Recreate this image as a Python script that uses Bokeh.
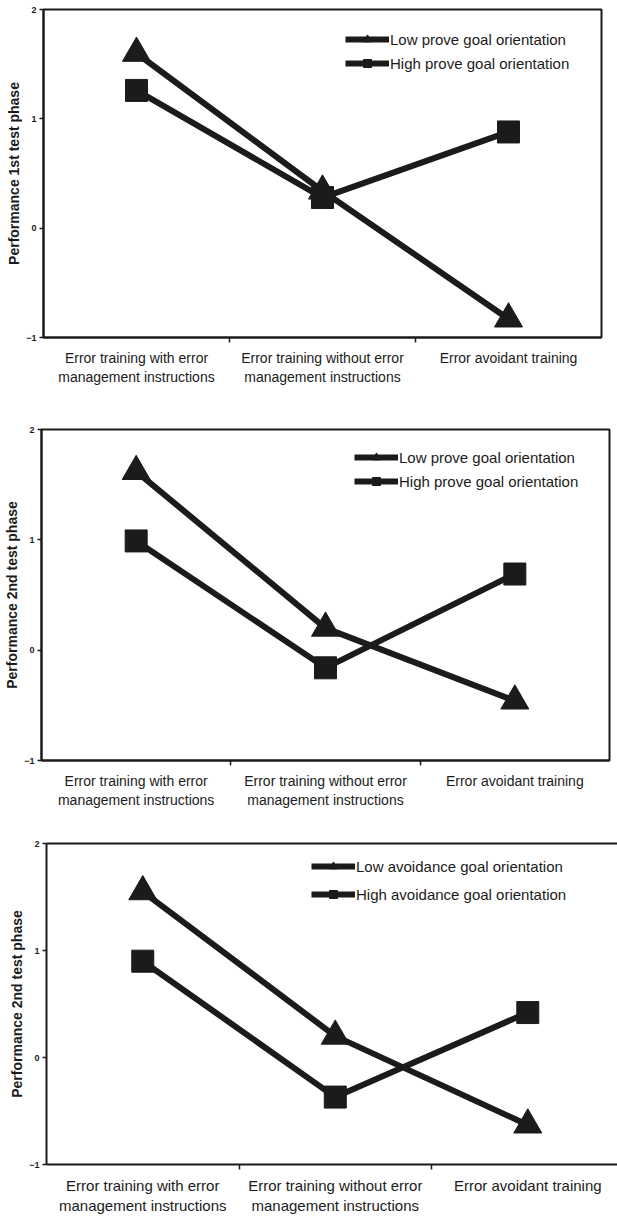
from bokeh.plotting import figure
from bokeh.layouts import column
from bokeh.models import Range1d, FixedTicker, Legend, LegendItem, LinearAxis
from bokeh.embed import file_html
from bokeh.resources import INLINE

# ---- data ----
categories = [
    "Error training with error\nmanagement instructions",
    "Error training without error\nmanagement instructions",
    "Error avoidant training",
]
y_ticks = [-1, 0, 1, 2]

ylabel_1 = "Performance 1st test phase"
ylabel_2 = "Performance 2nd test phase"
ylabel_3 = "Performance 2nd test phase"

labels_prove = ["Low prove goal orientation", "High prove goal orientation"]
labels_avoid = ["Low avoidance goal orientation", "High avoidance goal orientation"]

low_prove_1st = [1.60, 0.34, -0.83]
high_prove_1st = [1.26, 0.28, 0.88]

low_prove_2nd = [1.62, 0.20, -0.46]
high_prove_2nd = [0.99, -0.16, 0.69]

low_avoid_2nd = [1.55, 0.20, -0.63]
high_avoid_2nd = [0.90, -0.37, 0.42]

INK = "#1b1b1b"
FONT = "Liberation Sans"


def make_panel(ylabel, low, high, leg_labels, height, x_end, b_left, b_right,
               b_top, b_bottom, legend_xy, legend_spacing, xfont,
               open_right=False):
    xs = [i + 0.5 for i in range(len(categories))]
    p = figure(width=617, height=height,
               x_range=Range1d(0, x_end), y_range=Range1d(-1, 2),
               output_backend="svg", toolbar_location=None,
               min_border_left=b_left, min_border_right=b_right,
               min_border_top=b_top, min_border_bottom=b_bottom)
    p.background_fill_color = "white"
    p.border_fill_color = "white"
    p.xgrid.visible = False
    p.ygrid.visible = False

    # y axis
    ya = p.left[0]
    ya.ticker = FixedTicker(ticks=y_ticks)
    ya.axis_label = ylabel
    ya.axis_label_text_font = FONT
    ya.axis_label_text_font_style = "bold"
    ya.axis_label_text_font_size = "14px"
    ya.axis_label_text_color = INK
    ya.axis_label_standoff = 1
    ya.major_label_text_font = FONT
    ya.major_label_text_font_style = "bold"
    ya.major_label_text_font_size = "9px"
    ya.major_label_text_color = INK
    ya.major_label_standoff = 3
    ya.major_tick_out = 4
    ya.major_tick_in = 0
    ya.minor_tick_line_color = None
    ya.axis_line_color = INK
    ya.axis_line_width = 2
    ya.major_tick_line_color = INK
    ya.major_tick_line_width = 1.5

    # x axis: labels at category centres, tick marks at category boundaries
    xa = p.below[0]
    xa.ticker = FixedTicker(ticks=xs, minor_ticks=[1, 2])
    xa.major_label_overrides = {x: c for x, c in zip(xs, categories)}
    xa.major_label_text_font = FONT
    xa.major_label_text_font_size = xfont
    xa.major_label_text_color = INK
    xa.major_label_text_line_height = 1.2
    xa.major_label_standoff = 7
    xa.major_tick_line_color = None
    xa.major_tick_out = 0
    xa.major_tick_in = 0
    xa.minor_tick_out = 5
    xa.minor_tick_in = 0
    xa.minor_tick_line_color = INK
    xa.minor_tick_line_width = 1.5
    xa.axis_line_color = INK
    xa.axis_line_width = 2

    if open_right:
        # frame runs past the right edge: draw only top, left and bottom sides
        p.outline_line_color = None
        top = LinearAxis(ticker=FixedTicker(ticks=[]), axis_line_color=INK,
                         axis_line_width=2, major_label_text_font_size="0px",
                         major_label_standoff=0, major_tick_out=0,
                         major_tick_in=0, minor_tick_out=0, minor_tick_in=0,
                         major_tick_line_color=None, minor_tick_line_color=None)
        p.add_layout(top, "above")
    else:
        p.outline_line_color = INK
        p.outline_line_width = 2

    l_low = p.line(xs, low, line_color=INK, line_width=6)
    m_low = p.scatter(xs, low, marker="triangle", size=28, fill_color=INK,
                      line_color=INK)
    l_high = p.line(xs, high, line_color=INK, line_width=6)
    m_high = p.scatter(xs, high, marker="square", size=22, fill_color=INK,
                       line_color=INK)

    legend = Legend(items=[
        LegendItem(label=leg_labels[0], renderers=[l_low, m_low]),
        LegendItem(label=leg_labels[1], renderers=[l_high, m_high]),
    ])
    legend.location = legend_xy
    legend.border_line_color = None
    legend.background_fill_alpha = 0
    legend.padding = 0
    legend.margin = 0
    legend.spacing = legend_spacing
    legend.glyph_width = 44
    legend.glyph_height = 20
    legend.label_height = 20
    legend.label_standoff = 1
    legend.label_text_font = FONT
    legend.label_text_font_size = "15px"
    legend.label_text_color = INK
    p.add_layout(legend)
    return p


p1 = make_panel(ylabel_1, low_prove_1st, high_prove_1st, labels_prove,
                height=420, x_end=3.0, b_left=43, b_right=16, b_top=9,
                b_bottom=83, legend_xy=(302, 264), legend_spacing=4,
                xfont="14px")
p2 = make_panel(ylabel_2, low_prove_2nd, high_prove_2nd, labels_prove,
                height=414, x_end=3.0, b_left=41, b_right=8, b_top=9,
                b_bottom=74, legend_xy=(313, 269), legend_spacing=4,
                xfont="14px")
p3 = make_panel(ylabel_3, low_avoid_2nd, high_avoid_2nd, labels_avoid,
                height=382, x_end=2.966, b_left=46, b_right=0, b_top=9,
                b_bottom=52, legend_xy=(265, 260), legend_spacing=8,
                xfont="15px", open_right=True)

# each panel in its own box so the frames keep their own borders
layout = column(column(p1), column(p2), column(p3), spacing=0)
open("out.html", "w").write(file_html(layout, INLINE))
